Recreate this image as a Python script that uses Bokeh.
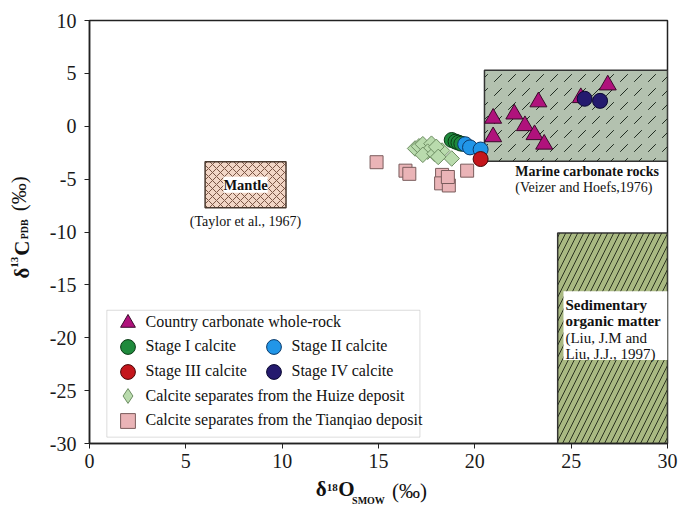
import numpy as np
from bokeh.plotting import figure
from bokeh.models import (Label, Legend, LegendItem, BoxAnnotation, FixedTicker, Range1d,
                          LinearAxis)
from bokeh.embed import file_html
from bokeh.resources import INLINE

# ---------------- data ----------------
x_ticks = [0, 5, 10, 15, 20, 25, 30]
y_ticks = [-30, -25, -20, -15, -10, -5, 0, 5, 10]

country_x = [20.95, 20.95, 22.05, 23.3, 22.6, 23.1, 23.6, 26.9, 25.5]
country_y = [0.75, -1.0, 1.15, 2.3, 0.05, -0.8, -1.7, 3.9, 2.7]

stage1_x = [18.8, 19.0, 19.15, 19.3]
stage1_y = [-1.3, -1.45, -1.55, -1.65]
stage2_x = [19.5, 19.75, 20.3]
stage2_y = [-1.7, -2.0, -2.2]
stage3_x = [20.3]
stage3_y = [-3.1]
stage4_x = [25.7, 26.5]
stage4_y = [2.6, 2.4]

huize_x = [16.9, 17.1, 17.3, 17.75, 17.55, 17.3, 17.9, 18.3, 18.0, 18.8, 18.1]
huize_y = [-2.1, -1.9, -1.7, -1.65, -2.4, -2.7, -2.6, -2.3, -1.95, -3.05, -2.9]

tianqiao_x = [14.9, 16.4, 16.6, 18.3, 18.25, 18.65, 18.6, 19.6]
tianqiao_y = [-3.4, -4.2, -4.5, -4.6, -5.4, -5.6, -4.8, -4.2]

# reference fields (x range, y range)
marine_x = [20.5, 30.0]
marine_y = [-3.3, 5.3]
mantle_x = [6.0, 10.2]
mantle_y = [-7.7, -3.35]
organic_x = [24.3, 30.0]
organic_y = [-30.0, -10.1]

SERIF = "Liberation Serif"
INK = "#111111"

p = figure(width=678, height=510, x_range=Range1d(0, 30), y_range=Range1d(-30, 10),
           output_backend="svg", toolbar_location=None,
           min_border_left=89, min_border_right=11, min_border_top=20, min_border_bottom=67)

p.grid.visible = False
p.outline_line_color = "#222222"
p.outline_line_width = 1.5
p.background_fill_color = "white"
p.border_fill_color = "white"

p.xaxis.ticker = FixedTicker(ticks=x_ticks)
p.yaxis.ticker = FixedTicker(ticks=y_ticks)
p.xaxis.major_label_overrides = {t: str(t) for t in x_ticks}
p.yaxis.major_label_overrides = {t: str(t) for t in y_ticks}
for ax in (p.xaxis, p.yaxis):
    ax.major_tick_out = 5
    ax.major_tick_in = 0
    ax.minor_tick_out = 0
    ax.minor_tick_in = 0
    ax.axis_line_width = 1.5
    ax.axis_line_color = "#222222"
    ax.major_tick_line_color = "#222222"
    ax.major_tick_line_width = 1
    ax.major_label_text_font = SERIF
    ax.major_label_text_font_size = "20px"
    ax.major_label_text_color = "#1a1a1a"
p.xaxis.major_label_standoff = 5
p.yaxis.major_label_standoff = 8

# ---------------- reference fields ----------------
p.quad(left=[marine_x[0]], right=[marine_x[1]], bottom=[marine_y[0]], top=[marine_y[1]],
       fill_color="#b3c1af", line_color="#333333", line_width=1.5,
       hatch_pattern=",", hatch_color="#1e2a1e", hatch_scale=14, hatch_weight=1)
p.quad(left=[mantle_x[0]], right=[mantle_x[1]], bottom=[mantle_y[0]], top=[mantle_y[1]],
       fill_color="#f2d6c6", line_color="#4a3a30", line_width=1.5,
       hatch_pattern="x", hatch_color="#7a5545", hatch_scale=8, hatch_weight=1)
p.quad(left=[organic_x[0]], right=[organic_x[1]], bottom=[organic_y[0]], top=[organic_y[1]],
       fill_color="#a9b982", line_color="#333333", line_width=1.5,
       hatch_pattern="/", hatch_color="#2b3320", hatch_scale=12, hatch_weight=1)

# ---------------- data points ----------------
SQ = dict(fill_color="#eab4b7", line_color="#7a5c5c", line_width=1)
DI = dict(fill_color="#b9dbad", line_color="#6d8d62", line_width=1)
r_sq = p.scatter(tianqiao_x, tianqiao_y, marker="square", size=13, **SQ)
# diamond glyphs (hidden beneath the rotated squares) provide the legend swatch
r_di_leg = p.scatter(huize_x, huize_y, marker="diamond", size=13, **DI)
p.scatter(huize_x, huize_y, marker="square", angle=np.pi / 4, size=11, **DI)
r_tri = p.scatter(country_x, country_y, marker="triangle", size=17,
                  fill_color="#b0127c", line_color="#3a0a2a", line_width=1)
r_s1 = p.scatter(stage1_x, stage1_y, marker="circle", size=15,
                 fill_color="#1f8a3c", line_color="#0b3a16", line_width=1)
r_s2 = p.scatter(stage2_x, stage2_y, marker="circle", size=15,
                 fill_color="#2196e8", line_color="#0b3a6a", line_width=1)
r_s3 = p.scatter(stage3_x, stage3_y, marker="circle", size=15,
                 fill_color="#c4161c", line_color="#4a0808", line_width=1)
r_s4 = p.scatter(stage4_x, stage4_y, marker="circle", size=15,
                 fill_color="#241a6e", line_color="#0a0830", line_width=1)

# ---------------- field labels ----------------
def lab(x, y, text, size="14px", bold=False, align="left", baseline="alphabetic", bg=None):
    kw = dict(background_fill_color=bg) if bg else {}
    p.add_layout(Label(x=x, y=y, text=text, text_font=SERIF,
                       text_font_style="bold" if bold else "normal", text_font_size=size,
                       text_align=align, text_baseline=baseline, text_color=INK, **kw))


mcx = (mantle_x[0] + mantle_x[1]) / 2
lab(mcx, (mantle_y[0] + mantle_y[1]) / 2, "Mantle", "14.5px", True, "center", "middle", "white")
lab(mcx, -9.0, "(Taylor et al., 1967)", "14px", False, "center")
lab(22.1, -4.25, "Marine carbonate rocks", "14px", True)
lab(22.1, -5.8, "(Veizer and Hoefs,1976)", "14px")

p.add_layout(BoxAnnotation(left=24.6, right=30.0, top=-15.6, bottom=-22.1,
                           fill_color="white", fill_alpha=1, line_alpha=0))
lab(24.7, -16.9, "Sedimentary", "15px", True)
lab(24.7, -18.45, "organic matter", "15px", True)
lab(24.7, -20.05, "(Liu, J.M and", "15px")
lab(24.7, -21.55, "Liu, J.J., 1997)", "15px")

# ---------------- legend ----------------
p.add_layout(BoxAnnotation(left=0.9, right=17.15, top=-17.4, bottom=-29.4,
                           fill_color="white", fill_alpha=1, line_color="#8a8a8a", line_width=1))


def add_legend(items, loc, orientation="vertical", label_width=20):
    lg = Legend(items=items, location=loc, orientation=orientation,
                glyph_width=37, glyph_height=37, label_standoff=-6,
                label_width=label_width, label_height=20, spacing=0, padding=0, margin=0,
                border_line_alpha=0, background_fill_alpha=0,
                label_text_font=SERIF, label_text_font_size="16px",
                label_text_color=INK)
    p.add_layout(lg)


add_legend([LegendItem(label="Country carbonate whole-rock", renderers=[r_tri])], (19.5, 102.5))
add_legend([LegendItem(label="Stage I calcite", renderers=[r_s1]),
            LegendItem(label="Stage II calcite", renderers=[r_s2])], (19.5, 78.5),
           orientation="horizontal", label_width=109)
add_legend([LegendItem(label="Stage III calcite", renderers=[r_s3]),
            LegendItem(label="Stage IV calcite", renderers=[r_s4])], (19.5, 53.5),
           orientation="horizontal", label_width=109)
add_legend([LegendItem(label="Calcite separates from the Huize deposit", renderers=[r_di_leg])], (19.5, 29))
add_legend([LegendItem(label="Calcite separates from the Tianqiao deposit", renderers=[r_sq])], (19.5, 4.5))

# ---------------- axis titles: composed from label-only side axes ----------------
def title_axis(side, standoff, ticks, texts, size, bold=True, orient="horizontal"):
    ax = LinearAxis(ticker=FixedTicker(ticks=ticks),
                    major_label_overrides=dict(zip(ticks, texts)),
                    axis_line_alpha=0, major_tick_line_alpha=0, minor_tick_line_alpha=0,
                    major_tick_out=0, major_tick_in=0, minor_tick_out=0, minor_tick_in=0,
                    major_label_standoff=standoff, major_label_orientation=orient,
                    major_label_text_font=SERIF, major_label_text_font_size=size,
                    major_label_text_font_style="bold" if bold else "normal",
                    major_label_text_color=INK)
    p.add_layout(ax, side)


# x title: δ18O SMOW (‰)
title_axis("below", 6, [12.03, 13.33], ["δ", "O"], "21px")
title_axis("below", -25, [16.61], ["(‰)"], "21px", bold=False)
title_axis("below", -11, [14.48], ["SMOW"], "10px")
title_axis("below", -25, [12.6], ["18"], "11px")

# y title: δ13C PDB (‰)
title_axis("left", 12, [-13.89, -11.53], ["δ", "C"], "21px", orient="parallel")
title_axis("left", -24, [-6.38], ["(‰)"], "21px", bold=False, orient="parallel")
title_axis("left", -14, [-12.85], ["13"], "11px", orient="parallel")
title_axis("left", -26, [-9.74], ["PDB"], "10px", orient="parallel")

open("out.html", "w").write(file_html(p, INLINE))
